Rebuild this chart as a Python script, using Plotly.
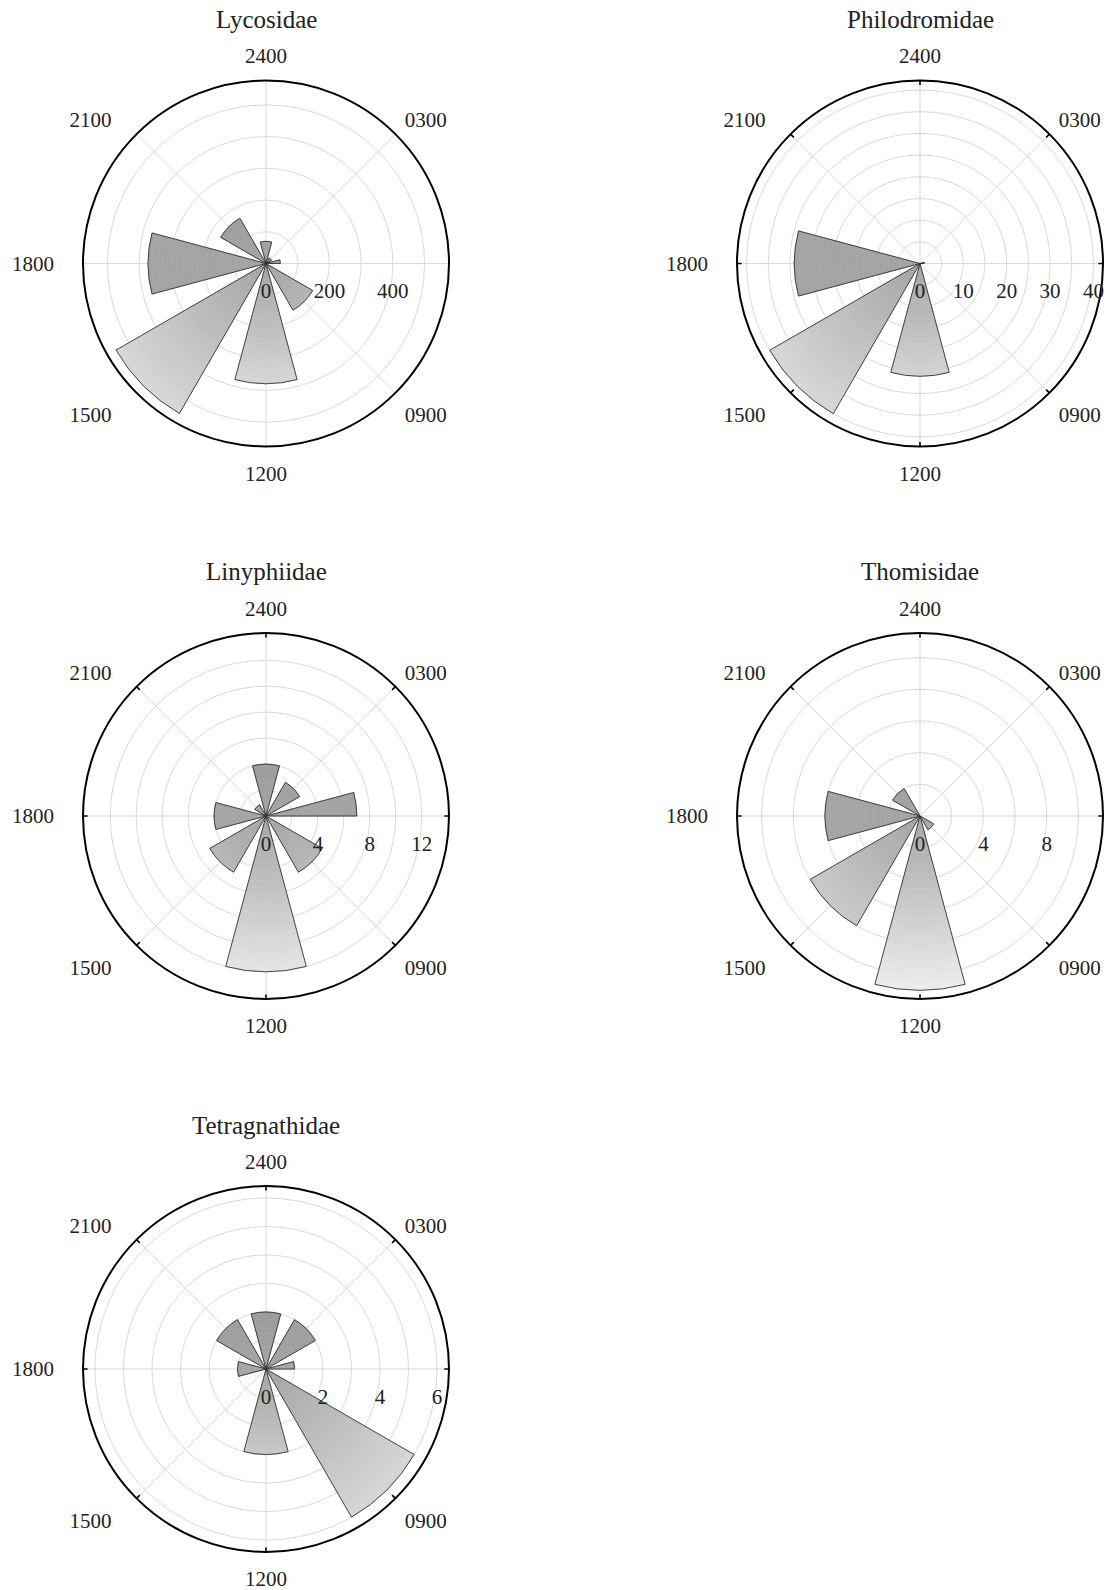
import math
import plotly.graph_objects as go

# ---------------- data ----------------
hour_labels = ["2400", "0300", "0600", "0900", "1200", "1500", "1800", "2100"]
hour_values = [0, 3, 6, 9, 12, 15, 18, 21]

families = ["Lycosidae", "Philodromidae", "Linyphiidae", "Thomisidae", "Tetragnathidae"]

lycosidae = [70, 20, 45, 170, 379, 546, 372, 165]
philodromidae = [0, 0, 1, 0, 26, 40, 29, 0]
linyphiidae = [4, 3, 7, 5, 12, 5, 4, 1]
thomisidae = [0, 0, 0, 1, 11, 8, 6, 2]
tetragnathidae = [2, 2, 1, 6, 3, 0, 1, 2]

lycosidae_rticks = [0, 100, 200, 300, 400, 500]
lycosidae_rlabels = ["0", "", "200", "", "400", ""]
philodromidae_rticks = [0, 5, 10, 15, 20, 25, 30, 35, 40]
philodromidae_rlabels = ["0", "", "10", "", "20", "", "30", "", "40"]
linyphiidae_rticks = [0, 2, 4, 6, 8, 10, 12]
linyphiidae_rlabels = ["0", "", "4", "", "8", "", "12"]
thomisidae_rticks = [0, 2, 4, 6, 8, 10]
thomisidae_rlabels = ["0", "", "4", "", "8", ""]
tetragnathidae_rticks = [0, 1, 2, 3, 4, 5, 6]
tetragnathidae_rlabels = ["0", "", "2", "", "4", "", "6"]

# ---------------- layout / style ----------------
W, H = 1112, 1590
R = 183
panels = [
    dict(name=families[0], vals=lycosidae, rt=lycosidae_rticks, rl=lycosidae_rlabels,
         rmax=577, cx=266, cy=263.5, inner_ticks=False),
    dict(name=families[1], vals=philodromidae, rt=philodromidae_rticks, rl=philodromidae_rlabels,
         rmax=42.2, cx=920, cy=263.5, inner_ticks=True),
    dict(name=families[2], vals=linyphiidae, rt=linyphiidae_rticks, rl=linyphiidae_rlabels,
         rmax=14.1, cx=266, cy=816, inner_ticks=True),
    dict(name=families[3], vals=thomisidae, rt=thomisidae_rticks, rl=thomisidae_rlabels,
         rmax=11.55, cx=920, cy=816, inner_ticks=True),
    dict(name=families[4], vals=tetragnathidae, rt=tetragnathidae_rticks, rl=tetragnathidae_rlabels,
         rmax=6.42, cx=266, cy=1369, inner_ticks=True),
]

FONT = "Liberation Serif"
BAR_WIDTH = 30
NSEG = 24
PAD = "\u00a0\u00a0\u00a0"  # pushes the left-hand hour labels a little further out


def bin_geometry(h):
    theta = h * 15.0
    if h == 6:  # the 0600 sector is drawn as a half sector above the axis
        return theta - 7.5, BAR_WIDTH / 2
    return theta, BAR_WIDTH


def angular_text(h, lab):
    if h == 6:
        return ""
    if h in (15, 18, 21):
        return lab + PAD
    return lab


def grey(yn):
    if yn >= 0:
        g = 164 - 30 * yn
    else:
        g = 164 - 76 * yn
    g = int(max(0, min(255, round(g))))
    return f"rgb({g},{g},{g})"


fig = go.Figure()
layout_polars = {}
annotations = []

for i, p in enumerate(panels):
    pid = "polar" if i == 0 else f"polar{i + 1}"
    thetas, widths = zip(*[bin_geometry(h) for h in hour_values])

    # gradient fill built from radial slices of each sector
    seg_r, seg_base, seg_theta, seg_w, seg_c = [], [], [], [], []
    for v, th, wd in zip(p["vals"], thetas, widths):
        if v <= 0:
            continue
        for k in range(NSEG):
            b = v * k / NSEG
            rm = v * (k + 0.5) / NSEG
            yn = rm * math.cos(math.radians(th)) / p["rmax"]
            seg_r.append(v / NSEG)
            seg_base.append(b)
            seg_theta.append(th)
            seg_w.append(wd)
            seg_c.append(grey(yn))
    fig.add_trace(go.Barpolar(
        r=seg_r, base=seg_base, theta=seg_theta, width=seg_w,
        marker=dict(color=seg_c, line=dict(color=seg_c, width=0.6)),
        subplot=pid, showlegend=False, hoverinfo="skip",
    ))
    # outline of each sector (the data bars)
    fig.add_trace(go.Barpolar(
        r=p["vals"], theta=list(thetas), width=list(widths),
        marker=dict(color="rgba(0,0,0,0)", line=dict(color="#333333", width=0.9)),
        subplot=pid, showlegend=False, name=p["name"],
        customdata=hour_labels, hovertemplate="%{customdata}: %{r}<extra></extra>",
    ))
    if p["inner_ticks"]:
        tr, tt = [], []
        for h in hour_values:
            tr += [p["rmax"] * 0.975, p["rmax"], None]
            tt += [h * 15, h * 15, None]
        fig.add_trace(go.Scatterpolar(
            r=tr, theta=tt, mode="lines", line=dict(color="black", width=1.6),
            subplot=pid, showlegend=False, hoverinfo="skip",
        ))

    cx, cy = p["cx"], p["cy"]
    x0 = (cx - R) / W
    x1 = (cx + R) / W
    y0 = 1 - (cy + R) / H
    y1 = 1 - (cy - R) / H
    layout_polars[pid] = dict(
        domain=dict(x=[x0, x1], y=[y0, y1]),
        bgcolor="white",
        barmode="overlay",
        angularaxis=dict(
            rotation=90, direction="clockwise",
            tickmode="array", tickvals=[h * 15 for h in hour_values],
            ticktext=[angular_text(h, lab) for h, lab in zip(hour_values, hour_labels)],
            showline=True, linecolor="black", linewidth=2,
            showgrid=True, gridcolor="#d9d9d9", gridwidth=1,
            ticks="outside", ticklen=8, tickcolor="rgba(0,0,0,0)",
            tickfont=dict(family=FONT, size=21, color="#222222"),
        ),
        radialaxis=dict(
            range=[0, p["rmax"]], angle=0, side="clockwise",
            tickmode="array", tickvals=p["rt"], ticktext=p["rl"],
            showline=False, showgrid=True, gridcolor="#d9d9d9", gridwidth=1,
            ticks="outside", ticklen=9, tickcolor="rgba(0,0,0,0)",
            tickfont=dict(family=FONT, size=21, color="#222222"),
            tickangle=0,
        ),
    )
    annotations.append(dict(
        text=p["name"], x=cx / W, y=1 - (cy - 244) / H,
        xref="paper", yref="paper", showarrow=False,
        xanchor="center", yanchor="middle",
        font=dict(family=FONT, size=25, color="#222222"),
    ))

fig.update_layout(
    width=W, height=H,
    margin=dict(l=0, r=0, t=0, b=0),
    paper_bgcolor="white", plot_bgcolor="white",
    annotations=annotations,
    showlegend=False,
    **layout_polars,
)

# remove the browser's default page margin so the figure fills the window
fig.write_html(
    "out.html",
    config={"displayModeBar": False},
    post_script="document.body.style.margin='0';document.body.style.overflow='hidden';",
)
